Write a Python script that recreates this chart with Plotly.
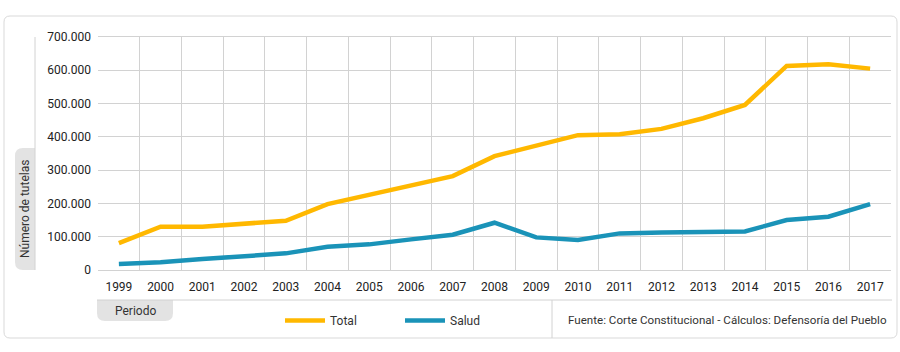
import plotly.graph_objects as go

years = [str(y) for y in range(1999, 2018)]
total = [81000, 130000, 130000, 138000, 148000, 198000, 225000, 255000, 282000, 342000,
         375000, 405000, 408000, 424000, 456000, 496000, 613000, 618000, 605000]
salud = [18000, 23000, 33000, 42000, 50000, 70000, 77000, 92000, 106000, 142000,
         98000, 90000, 110000, 113000, 114000, 116000, 150000, 160000, 198000]

W, H = 900, 352
L, R, T, B = 98, 891, 37, 270


def px(x):
    return (x - L) / (R - L)


def py(y):
    return (B - y) / (B - T)


FONT = "Roboto"
GRID = "#d2d2d2"

fig = go.Figure()
fig.add_trace(go.Scatter(x=years, y=total, name="Total", mode="lines",
                         line=dict(color="#FFB800", width=4.5)))
fig.add_trace(go.Scatter(x=years, y=salud, name="Salud", mode="lines",
                         line=dict(color="#1A93B8", width=4.5)))


def rounded_rect(x0, y0, x1, y1, r, corners="tl tr br bl"):
    c = corners.split()
    X0, X1 = px(x0), px(x1)
    Y0, Y1 = py(y0), py(y1)
    rx = r / (R - L)
    ry = r / (B - T)
    parts = []
    if "tl" in c:
        parts.append(f"M{X0},{Y0 - ry} Q{X0},{Y0} {X0 + rx},{Y0}")
    else:
        parts.append(f"M{X0},{Y0}")
    if "tr" in c:
        parts.append(f"L{X1 - rx},{Y0} Q{X1},{Y0} {X1},{Y0 - ry}")
    else:
        parts.append(f"L{X1},{Y0}")
    if "br" in c:
        parts.append(f"L{X1},{Y1 + ry} Q{X1},{Y1} {X1 - rx},{Y1}")
    else:
        parts.append(f"L{X1},{Y1}")
    if "bl" in c:
        parts.append(f"L{X0 + rx},{Y1} Q{X0},{Y1} {X0},{Y1 + ry}")
    else:
        parts.append(f"L{X0},{Y1}")
    parts.append("Z")
    return " ".join(parts)


shapes = []
shapes.append(dict(type="path", xref="paper", yref="paper",
                   path=rounded_rect(4, 16, 897, 338, 6),
                   line=dict(color="#d9d9d9", width=1), fillcolor="rgba(0,0,0,0)",
                   layer="below"))
shapes.append(dict(type="path", xref="paper", yref="paper",
                   path=rounded_rect(15, 148, 35, 270, 8, "tl bl"),
                   line=dict(width=0), fillcolor="#e3e3e3", layer="below"))
shapes.append(dict(type="path", xref="paper", yref="paper",
                   path=rounded_rect(97, 300, 173, 321, 8, "br bl"),
                   line=dict(width=0), fillcolor="#e3e3e3", layer="below"))
shapes.append(dict(type="line", xref="paper", yref="paper",
                   x0=px(35), x1=px(35), y0=py(37), y1=py(270),
                   line=dict(color=GRID, width=1)))
shapes.append(dict(type="line", xref="paper", yref="paper",
                   x0=px(97), x1=px(892), y0=py(300), y1=py(300),
                   line=dict(color=GRID, width=1)))
shapes.append(dict(type="line", xref="paper", yref="paper",
                   x0=px(552), x1=px(552), y0=py(300), y1=py(338),
                   line=dict(color=GRID, width=1)))

annotations = [
    dict(text="Número de tutelas", textangle=-90, xref="paper", yref="paper",
         x=px(25), y=py(209), showarrow=False, xanchor="center", yanchor="middle",
         font=dict(family=FONT, size=12, color="#333333")),
    dict(text="Periodo", xref="paper", yref="paper",
         x=px(135), y=py(311), showarrow=False, xanchor="center", yanchor="middle",
         font=dict(family=FONT, size=12, color="#333333")),
    dict(text="Fuente: Corte Constitucional - Cálculos: Defensoría del Pueblo",
         xref="paper", yref="paper", x=px(566), y=py(320), showarrow=False,
         xanchor="left", yanchor="middle",
         font=dict(family=FONT, size=11.6, color="#333333")),
]

fig.update_layout(
    width=W, height=H,
    margin=dict(l=L, r=W - R, t=T, b=H - B),
    paper_bgcolor="white", plot_bgcolor="white",
    separators=",.",
    font=dict(family=FONT, size=12, color="#222222"),
    showlegend=True,
    legend=dict(orientation="h", x=px(280), y=py(306), xanchor="left", yanchor="top",
                font=dict(family=FONT, size=12, color="#333333"),
                itemwidth=40, entrywidth=65, entrywidthmode="pixels",
                bgcolor="rgba(0,0,0,0)"),
    shapes=shapes,
    annotations=annotations,
    xaxis=dict(type="category", tickson="boundaries", showgrid=True, gridcolor=GRID,
               gridwidth=1, ticks="", showline=True, linecolor=GRID, mirror=True,
               range=[-0.5, 18.5], ticklabelstandoff=6,
               tickfont=dict(family=FONT, size=12, color="#222222"),
               zeroline=False, fixedrange=True),
    yaxis=dict(range=[0, 700000], dtick=100000, tickformat=",d", showgrid=True,
               gridcolor=GRID, gridwidth=1, zeroline=False, showline=False,
               ticks="", ticklabelstandoff=6,
               tickfont=dict(family=FONT, size=12, color="#222222"), fixedrange=True),
)

fig.write_html("out.html")
